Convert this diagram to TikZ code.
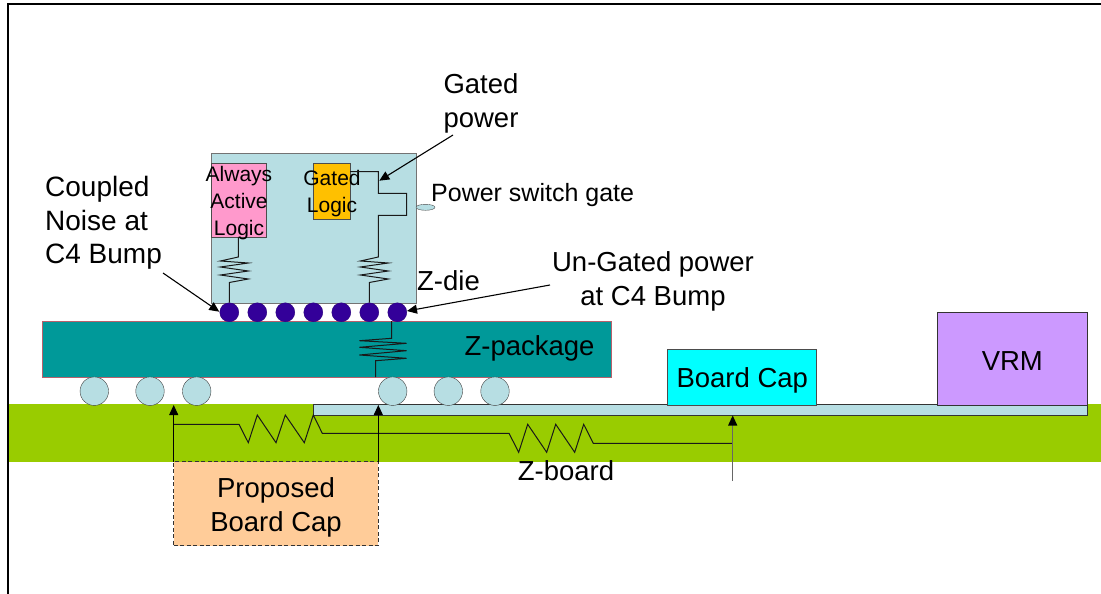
\documentclass[tikz,border=0pt]{standalone}
\usepackage{fontspec}
\setmainfont{Liberation Sans}
\usetikzlibrary{positioning, arrows.meta, shapes.geometric}
\definecolor{dieblue}{HTML}{B7DEE3}
\definecolor{logicpink}{HTML}{FF99CC}
\definecolor{logicgold}{HTML}{FFC000}
\definecolor{bumpblue}{HTML}{330099}
\definecolor{pkgteal}{HTML}{009999}
\definecolor{pkgedge}{HTML}{B8606C}
\definecolor{boardgreen}{HTML}{99CC00}
\definecolor{capcyan}{HTML}{00FFFF}
\definecolor{vrmpurple}{HTML}{CC99FF}
\definecolor{capsand}{HTML}{FFCC99}
\tikzset{
    block/.style = {draw=#1, rectangle, inner sep=0pt, outer sep=0pt, line width=1pt},
    block/.default = black!80,
    size/.style 2 args = {minimum width=#1pt, minimum height=#2pt},
    bump/.style = {circle, draw=bumpblue!80!black, fill=bumpblue, inner sep=0pt, outer sep=0pt, minimum size=19pt},
    ball/.style = {circle, draw=black!75, fill=dieblue, inner sep=0pt, outer sep=0pt, minimum size=28.5pt},
    wire/.style = {draw=black!90, line width=1pt},
    lead/.style = {draw=black, line width=1.1pt, -{Triangle[length=10pt, width=9pt, color=black, fill=black]}},
    big/.style = {font=\fontsize{27.5}{34}\selectfont, align=center, inner sep=0pt},
    small/.style = {font=\fontsize{21}{27}\selectfont, align=center, inner sep=0pt},
}
% one coil inside the die, drawn from its upper end
\newcommand{\diecoil}{-- ++(-18,4) -- ++(28,2) -- ++(-28,4) -- ++(28,4) -- ++(-28,4) -- ++(28,4) -- ++(-19,3.5)}
\begin{document}
\begin{tikzpicture}[x=1pt, y=-1pt, every node/.append style=on grid]
    \useasboundingbox (0,0) rectangle (1101,594);
    \draw[line width=2.5pt] (8.2,594) -- (8.2,4.2) -- (1101,4.2);

    % board
    \node (board) [block=boardgreen, fill=boardgreen, size={1092}{57}] at (555,433.3) {};
    \node (plane) [block, fill=dieblue, size={774}{10.5}] at (700.2,410.2) {};
    \node (cap) [block=black!70, fill=capcyan, size={149}{56}] at (742.3,377.3) {};
    \node (captext) [big] at (742.3,380.5) {Board Cap};
    \node (vrm) [block, fill=vrmpurple, size={150}{93}] at (1012.3,358.5) {};
    \node (vrmtext) [big] at (1012.3,361) {VRM};
    \node (prop) [block, dash pattern=on 4pt off 2.5pt, fill=capsand, size={204.6}{84}] at (276,503.7) {};
    \node (proptext) [big] at (276,507.5) {Proposed\\Board Cap};

    % package and balls
    \node (pkg) [block=pkgedge, fill=pkgteal, size={569.3}{56}] at (327.3,349) {};
    \node (zpkg) [big] at (529.5,348) {Z-package};
    \node (b1) [ball] at (94.3,391.2) {};
    \node (b2) [ball, right=55.7pt of b1] {};
    \node (b3) [ball, right=46.7pt of b2] {};
    \node (b4) [ball, right=196pt of b3] {};
    \node (b5) [ball, right=55.6pt of b4] {};
    \node (b6) [ball, right=46.7pt of b5] {};

    % die
    \node (die) [block=black!55, fill=dieblue, size={205}{150}] at (313.5,228) {};
    \node (always) [block=black!70, fill=logicpink, size={55}{74}] at (238.5,200) {};
    \node (gated) [block=black!70, fill=logicgold, size={37}{56}] at (331.5,191) {};
    \node (alwaystext) [small] at (239,203) {Always\\Active\\Logic};
    \node (gatedtext) [small] at (332,193.5) {Gated\\Logic};
    \node (s1) [bump] at (229.3,312.3) {};
    \foreach \i/\j in {1/2, 2/3, 3/4, 4/5, 5/6, 6/7}
        \node (s\j) [bump, right=28pt of s\i] {};
    \node (sw) [ellipse, draw=black!70, fill=dieblue, inner sep=0pt, minimum width=19pt, minimum height=6pt] at (425.5,207.3) {};

    % die wiring
    \draw[wire] (238.3,237) -- (238.3,257) \diecoil -- (229.3,302.7);
    \draw[wire] (350,171.7) -- (378.3,171.7) -- (378.3,193.3) -- (406.7,193.3) -- (406.7,215.3) -- (378.3,215.3) -- (378.3,257) \diecoil -- (369.3,302.7);

    % package coil
    \draw[wire] (391.7,321) -- (391.7,338.3) -- (359.3,340.7) -- (406.7,343.3) -- (359.3,347.3) -- (406.7,350.7) -- (359.3,355) -- (406.7,358.3) -- (375.7,360.7) -- (375.7,377);

    % board network
    \coordinate (tl) at (173.7,405);
    \coordinate (tr) at (378.3,405);
    \coordinate (tc) at (732.7,415.5);
    \coordinate (fc) at (732.7,481);
    \draw[wire] (173.7,424.3) -- (239,424.3) -- (248.3,442.7) -- (257.3,415) -- (276,442.7) -- (285.3,415) -- (304.3,442.7) -- (313.3,415) -- (322.3,433.3) -- (509,433.3) -- (518.7,452.3) -- (527.7,424.3) -- (546.7,452.3) -- (555.7,424.3) -- (574.7,452.3) -- (583.7,424.3) -- (593.3,443.3) -- (732.7,443.3);
    \draw[lead] (prop.north west) -- (tl);
    \draw[lead] (prop.north east) -- (tr);
    \draw[lead, draw=black!60] (fc) -- (tc);
    \node (zboard) [big] at (566,471) {Z-board};

    % labels with arrows
    \node (gp) [big] at (481,103) {Gated\\power};
    \node (cn) [big, font=\fontsize{28}{33.5}\selectfont, align=left, anchor=west] at (45,223) {Coupled\\Noise at\\C4 Bump};
    \node (ug) [big] at (653,281) {Un-Gated power\\at C4 Bump};
    \node (zdie) [big] at (448.5,281) {Z-die};
    \node (psg) [font=\fontsize{25}{30}\selectfont, inner sep=0pt, anchor=west] at (431,195) {Power switch gate};
    \coordinate (gptip) at (379.3,180.7);
    \coordinate (cntip) at (219.3,311.7);
    \coordinate (ugtip) at (407,311);
    \coordinate (gpfrom) at (453,135);
    \coordinate (cnfrom) at (163,273);
    \coordinate (ugfrom) at (550,285);
    \draw[lead] (gpfrom) -- (gptip);
    \draw[lead] (cnfrom) -- (cntip);
    \draw[lead] (ugfrom) -- (ugtip);
\end{tikzpicture}
\end{document}
